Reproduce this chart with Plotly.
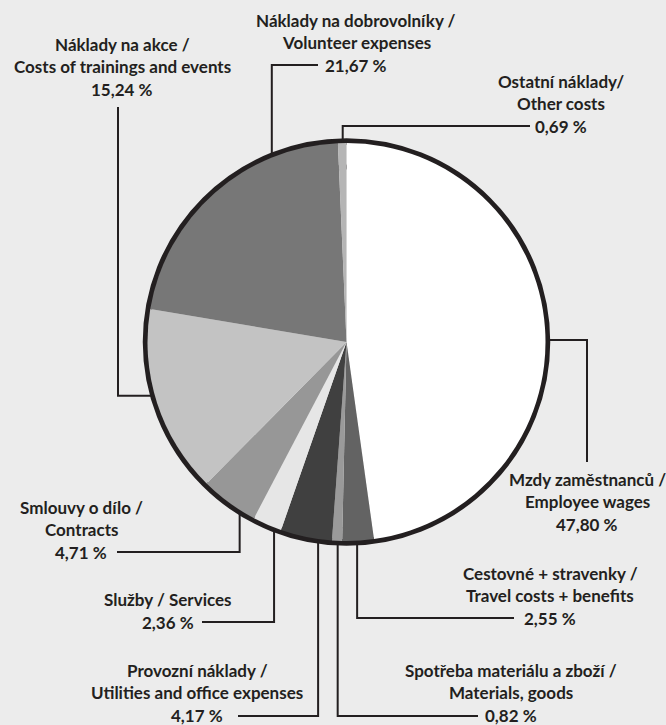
import math
import plotly.graph_objects as go

# ---------------- data ----------------
categories = [
    "Mzdy zaměstnanců / Employee wages",
    "Cestovné + stravenky / Travel costs + benefits",
    "Spotřeba materiálu a zboží / Materials, goods",
    "Provozní náklady / Utilities and office expenses",
    "Služby / Services",
    "Smlouvy o dílo / Contracts",
    "Náklady na akce / Costs of trainings and events",
    "Náklady na dobrovolníky / Volunteer expenses",
    "Ostatní náklady / Other costs",
]
values = [47.80, 2.55, 0.82, 4.17, 2.36, 4.71, 15.24, 21.67, 0.69]
label_lines = [
    ["Mzdy zaměstnanců /", "Employee wages"],
    ["Cestovné + stravenky /", "Travel costs + benefits"],
    ["Spotřeba materiálu a zboží /", "Materials, goods"],
    ["Provozní náklady /", "Utilities and office expenses"],
    ["Služby / Services"],
    ["Smlouvy o dílo /", "Contracts"],
    ["Náklady na akce /", "Costs of trainings and events"],
    ["Náklady na dobrovolníky /", "Volunteer expenses"],
    ["Ostatní náklady/", "Other costs"],
]
colors = ["#ffffff", "#636363", "#9a9a9a", "#404040", "#e6e6e6",
          "#979797", "#c3c3c3", "#777777", "#b5b5b5"]

# ---------------- layout helpers (positions only) ----------------
W, H = 666, 725
CX, CY = 346.5, 342.0
R_PIE = 199.0
R_RING = 200.5
INK = "#231f20"
BG = "#ececec"
FONT = "Lato, Roboto, sans-serif"
FONT_SIZE = 17
LINE_H = 22.5

# per slice: position of dot inside the slice (angular fraction, radius px),
# callout route ("v" = vertical first, "h" = horizontal first),
# elbow coordinate, end coordinate of second segment, label centre x, y of last line
callouts = [
    dict(frac=0.517, r=109.5, route="h", elbow=587, end=462, lx=587, ly=524),
    dict(frac=0.5, r=182.0, route="v", elbow=618, end=514, lx=550, ly=618),
    dict(frac=0.5, r=186.0, route="v", elbow=716, end=478, lx=511, ly=715),
    dict(frac=0.5, r=140.0, route="v", elbow=716, end=238, lx=197, ly=715),
    dict(frac=0.5, r=182.0, route="v", elbow=622, end=202, lx=168, ly=622),
    dict(frac=0.5, r=181.0, route="v", elbow=552, end=117, lx=81, ly=552),
    dict(frac=0.5, r=175.0, route="h", elbow=118, end=107, lx=122, ly=89),
    dict(frac=0.59, r=132.0, route="v", elbow=65, end=318, lx=356, ly=65),
    dict(frac=0.5, r=175.0, route="v", elbow=126, end=530, lx=561, ly=126),
]

total = sum(values)
fig = go.Figure()

fig.add_trace(go.Pie(
    labels=categories, values=values, sort=False, direction="clockwise",
    rotation=0, marker=dict(colors=colors, line=dict(width=0)),
    textinfo="none", hoverinfo="label+percent", showlegend=False,
    domain=dict(x=[(CX - R_PIE) / W, (CX + R_PIE) / W],
                y=[1 - (CY + R_PIE) / H, 1 - (CY - R_PIE) / H]),
))

line_x, line_y, dot_x, dot_y = [], [], [], []
annotations = []
cum = 0.0
for i, v in enumerate(values):
    c = callouts[i]
    a0 = cum / total * 360.0
    a1 = (cum + v) / total * 360.0
    cum += v
    ang = math.radians(a0 + (a1 - a0) * c["frac"])
    dx = CX + c["r"] * math.sin(ang)
    dy = CY - c["r"] * math.cos(ang)
    dot_x.append(dx)
    dot_y.append(dy)
    if c["route"] == "v":
        pts = [(dx, dy), (dx, c["elbow"]), (c["end"], c["elbow"])]
    else:
        pts = [(dx, dy), (c["elbow"], dy), (c["elbow"], c["end"])]
    for px_, py_ in pts:
        line_x.append(px_)
        line_y.append(py_)
    line_x.append(None)
    line_y.append(None)

    pct = f"{v:.2f}".replace(".", ",") + " %"
    lines = label_lines[i] + [pct]
    n = len(lines)
    for k, t in enumerate(lines):
        y = c["ly"] - (n - 1 - k) * LINE_H
        annotations.append(dict(
            x=c["lx"], y=y, xref="x", yref="y", text=t, showarrow=False,
            xanchor="center", yanchor="middle",
            font=dict(family=FONT, size=FONT_SIZE, color=INK, weight="bold"),
        ))

fig.add_trace(go.Scatter(x=line_x, y=line_y, mode="lines",
                         line=dict(color=INK, width=2), hoverinfo="skip",
                         showlegend=False))
fig.add_trace(go.Scatter(x=dot_x, y=dot_y, mode="markers",
                         marker=dict(color=INK, size=9), hoverinfo="skip",
                         showlegend=False))

fig.update_layout(
    width=W, height=H, autosize=False,
    margin=dict(l=0, r=0, t=0, b=0),
    paper_bgcolor=BG, plot_bgcolor="rgba(0,0,0,0)",
    xaxis=dict(range=[0, W], visible=False, fixedrange=True, domain=[0, 1]),
    yaxis=dict(range=[H, 0], visible=False, fixedrange=True, domain=[0, 1]),
    annotations=annotations,
    shapes=[dict(type="circle", xref="x", yref="y",
                 x0=CX - R_RING, x1=CX + R_RING, y0=CY - R_RING, y1=CY + R_RING,
                 line=dict(color=INK, width=6.5), layer="below")],
)

fig.write_html(
    "out.html",
    config={"displayModeBar": False},
    post_script="document.body.style.margin='0';document.body.style.padding='0';"
                "document.body.style.overflow='hidden';",
)
